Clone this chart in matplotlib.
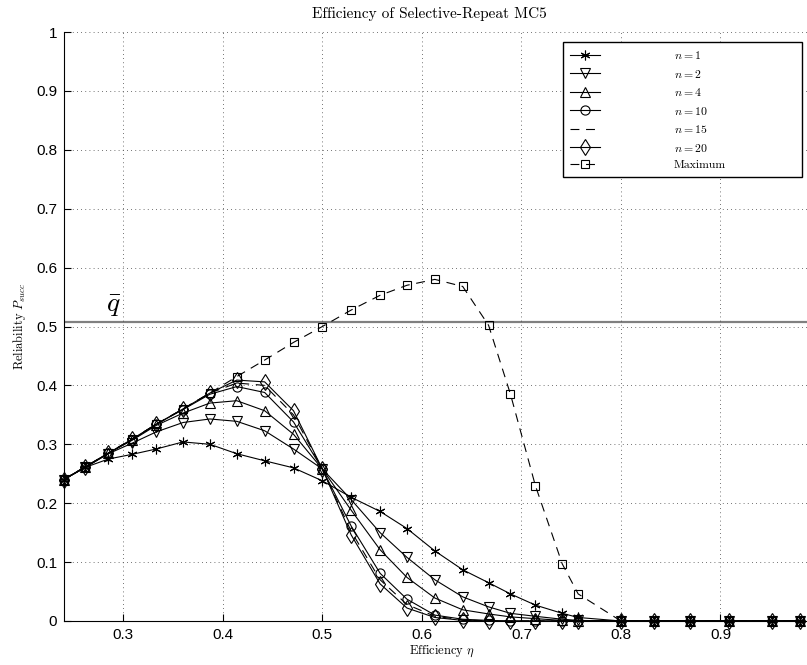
import numpy as np
import matplotlib
matplotlib.use('Agg')
import matplotlib.pyplot as plt

plt.rcParams['mathtext.fontset'] = 'cm'
plt.rcParams['font.family'] = ['Liberation Sans', 'DejaVu Sans']

# efficiency values (x)
eta = [0.240, 0.262, 0.285, 0.309, 0.333, 0.360, 0.387, 0.414, 0.442,
       0.471, 0.500, 0.529, 0.558, 0.585, 0.613, 0.641, 0.667, 0.689,
       0.714, 0.741, 0.757, 0.800, 0.833, 0.869, 0.909, 0.952, 0.980]

p_n1 = [0.240, 0.261, 0.275, 0.283, 0.292, 0.304, 0.300, 0.284, 0.272,
        0.260, 0.238, 0.210, 0.186, 0.157, 0.119, 0.087, 0.065, 0.046,
        0.027, 0.013, 0.006, 0.0, 0.0, 0.0, 0.0, 0.0, 0.0]
p_n2 = [0.240, 0.261, 0.284, 0.302, 0.321, 0.337, 0.343, 0.339, 0.323,
        0.292, 0.258, 0.206, 0.150, 0.108, 0.070, 0.041, 0.024, 0.013,
        0.008, 0.003, 0.001, 0.0, 0.0, 0.0, 0.0, 0.0, 0.0]
p_n4 = [0.240, 0.261, 0.285, 0.307, 0.332, 0.353, 0.370, 0.374, 0.357,
        0.317, 0.258, 0.188, 0.121, 0.074, 0.039, 0.019, 0.012, 0.007,
        0.004, 0.001, 0.0, 0.0, 0.0, 0.0, 0.0, 0.0, 0.0]
p_n10 = [0.240, 0.262, 0.285, 0.308, 0.334, 0.359, 0.385, 0.398, 0.388,
         0.338, 0.258, 0.161, 0.081, 0.037, 0.010, 0.003, 0.001, 0.0,
         0.0, 0.0, 0.0, 0.0, 0.0, 0.0, 0.0, 0.0, 0.0]
p_n15 = [0.240, 0.262, 0.285, 0.309, 0.334, 0.360, 0.387, 0.404, 0.400,
         0.350, 0.258, 0.152, 0.070, 0.028, 0.008, 0.002, 0.0, 0.0,
         0.0, 0.0, 0.0, 0.0, 0.0, 0.0, 0.0, 0.0, 0.0]
p_n20 = [0.240, 0.262, 0.285, 0.309, 0.334, 0.360, 0.387, 0.409, 0.406,
         0.357, 0.258, 0.146, 0.063, 0.022, 0.006, 0.001, 0.0, 0.0,
         0.0, 0.0, 0.0, 0.0, 0.0, 0.0, 0.0, 0.0, 0.0]
p_max = [0.240, 0.262, 0.285, 0.309, 0.334, 0.360, 0.387, 0.415, 0.443,
         0.473, 0.500, 0.528, 0.553, 0.570, 0.580, 0.568, 0.502, 0.385,
         0.230, 0.097, 0.046, 0.0, 0.0, 0.0, 0.0, 0.0, 0.0]

q_bar = 0.508

series = [
    (p_n1, '$n=1$', (6, 2, 0), '-', 7),
    (p_n2, '$n=2$', 'v', '-', 7.2),
    (p_n4, '$n=4$', '^', '-', 7.2),
    (p_n10, '$n=10$', 'o', '-', 6.6),
    (p_n15, '$n=15$', None, '--', 0),
    (p_n20, '$n=20$', 'd', '-', 8.5),
    (p_max, 'Maximum', 's', '--', 6),
]

xticks = [0.3, 0.4, 0.5, 0.6, 0.7, 0.8, 0.9]
yticks = [0, 0.1, 0.2, 0.3, 0.4, 0.5, 0.6, 0.7, 0.8, 0.9, 1.0]

W, H = 807, 665
fig = plt.figure(figsize=(W / 100, H / 100), dpi=100)
ax = fig.add_axes([64 / W, 44 / H, (820 - 64) / W, 589 / H])

for vals, lab, mk, ls, ms in series:
    kw = dict(color='k', lw=0.8, label=lab, clip_on=False)
    if ls == '--':
        kw['dashes'] = (8, 6)
    if mk is not None:
        kw.update(marker=mk, markersize=ms, markerfacecolor='none',
                  markeredgecolor='k', markeredgewidth=0.8)
    ax.plot(eta, vals, **kw)

ax.axhline(q_bar, color='#808080', lw=1.6, zorder=1)
ax.text(0.283, q_bar + 0.004, r'$\bar{q}$', fontsize=20, va='bottom', ha='left')

ax.set_xlim(0.2404, 1.0)
ax.set_ylim(0, 1)
ax.set_xticks(xticks)
ax.set_xticklabels(['%g' % t for t in xticks])
ax.set_yticks(yticks)
ax.set_yticklabels(['%g' % t for t in yticks])
ax.tick_params(direction='in', length=5, width=0.8, labelsize=11, pad=5)
ax.grid(True, color='#444444', lw=0.6, dashes=(1, 4))
for s in ['top', 'right']:
    ax.spines[s].set_visible(False)
for s in ['left', 'bottom']:
    ax.spines[s].set_linewidth(0.8)

fig.text(429 / W, 1 - 14 / H, 'Efficiency of Selective-Repeat MC5',
         family='cmr10', fontsize=11, ha='center', va='center')
ax.set_xlabel(r'Efficiency $\eta$', family='cmr10', fontsize=9, labelpad=1)
ax.set_ylabel(r'Reliability $P_{succ}$', family='cmr10', fontsize=9, labelpad=6)

leg = ax.legend(loc='upper left',
                bbox_to_anchor=(563 / W, 1 - 42 / H - 0.2, 239 / W, 0.2),
                bbox_transform=fig.transFigure, mode='expand',
                borderaxespad=0, prop={'family': 'cmr10', 'size': 8.5},
                handlelength=2.5, handletextpad=6.3, labelspacing=0.55,
                borderpad=0.6, fancybox=False, framealpha=1, edgecolor='k')
leg.get_frame().set_linewidth(1.0)

fig.savefig('out.png', dpi=100)
